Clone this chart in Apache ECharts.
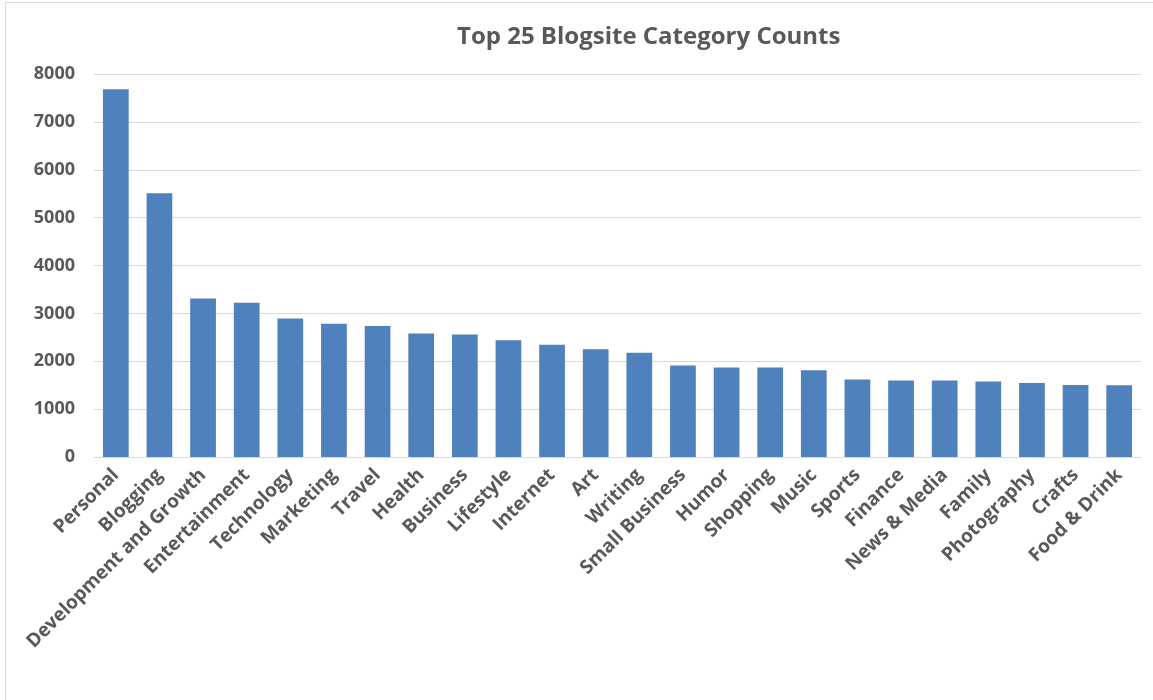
<!DOCTYPE html>
<html>
<head>
<meta charset="utf-8">
<script src="https://cdn.jsdelivr.net/npm/echarts@6/dist/echarts.min.js"></script>
<style>
  html, body { margin: 0; padding: 0; background: #fff; }
  #chart { width: 1153px; height: 700px; }
</style>
</head>
<body>
<div id="chart"></div>
<script>
// Blog category counts
const categories = [
  'Personal', 'Blogging', 'Development and Growth', 'Entertainment', 'Technology',
  'Marketing', 'Travel', 'Health', 'Business', 'Lifestyle', 'Internet', 'Art',
  'Writing', 'Small Business', 'Humor', 'Shopping', 'Music', 'Sports', 'Finance',
  'News & Media', 'Family', 'Photography', 'Crafts', 'Food & Drink'
];
const counts = [
  7680, 5510, 3310, 3220, 2895,
  2785, 2735, 2580, 2560, 2440, 2345, 2252,
  2175, 1910, 1868, 1868, 1812, 1617, 1596,
  1596, 1575, 1547, 1505, 1498
];
const yTicks = { min: 0, max: 8000, interval: 1000 };
const titleText = 'Top 25 Blogsite Category Counts';

const textGray = '#595959';
const gridGray = '#d9d9d9';

const chart = echarts.init(document.getElementById('chart'), null, { renderer: 'canvas' });
chart.setOption({
  backgroundColor: '#ffffff',
  animation: false,
  title: {
    text: titleText,
    left: 452,
    top: 20,
    textStyle: {
      fontFamily: 'Open Sans',
      fontWeight: 'bold',
      fontSize: 24,
      color: textGray
    }
  },
  graphic: [{
    type: 'rect',
    shape: { x: 5.5, y: 2.5, width: 1160, height: 710 },
    style: { fill: 'none', stroke: gridGray, lineWidth: 1 },
    silent: true
  }],
  grid: { left: 94, right: 12, top: 74, bottom: 243 },
  xAxis: {
    type: 'category',
    data: categories,
    axisLine: { lineStyle: { color: gridGray, width: 1 } },
    axisTick: { show: false },
    axisLabel: {
      interval: 0,
      rotate: 45,
      margin: 15,
      fontFamily: 'Open Sans',
      fontWeight: 'bold',
      fontSize: 19,
      color: textGray
    }
  },
  yAxis: {
    type: 'value',
    min: yTicks.min,
    max: yTicks.max,
    interval: yTicks.interval,
    axisLine: { show: false },
    axisTick: { show: false },
    splitLine: { lineStyle: { color: gridGray, width: 1 } },
    axisLabel: {
      margin: 19,
      formatter: (v) => String(v),
      fontFamily: 'Open Sans',
      fontWeight: 'bold',
      fontSize: 18,
      color: textGray
    }
  },
  series: [{
    type: 'bar',
    data: counts,
    barWidth: '59%',
    itemStyle: { color: '#4f81bd' }
  }]
});
</script>
</body>
</html>
